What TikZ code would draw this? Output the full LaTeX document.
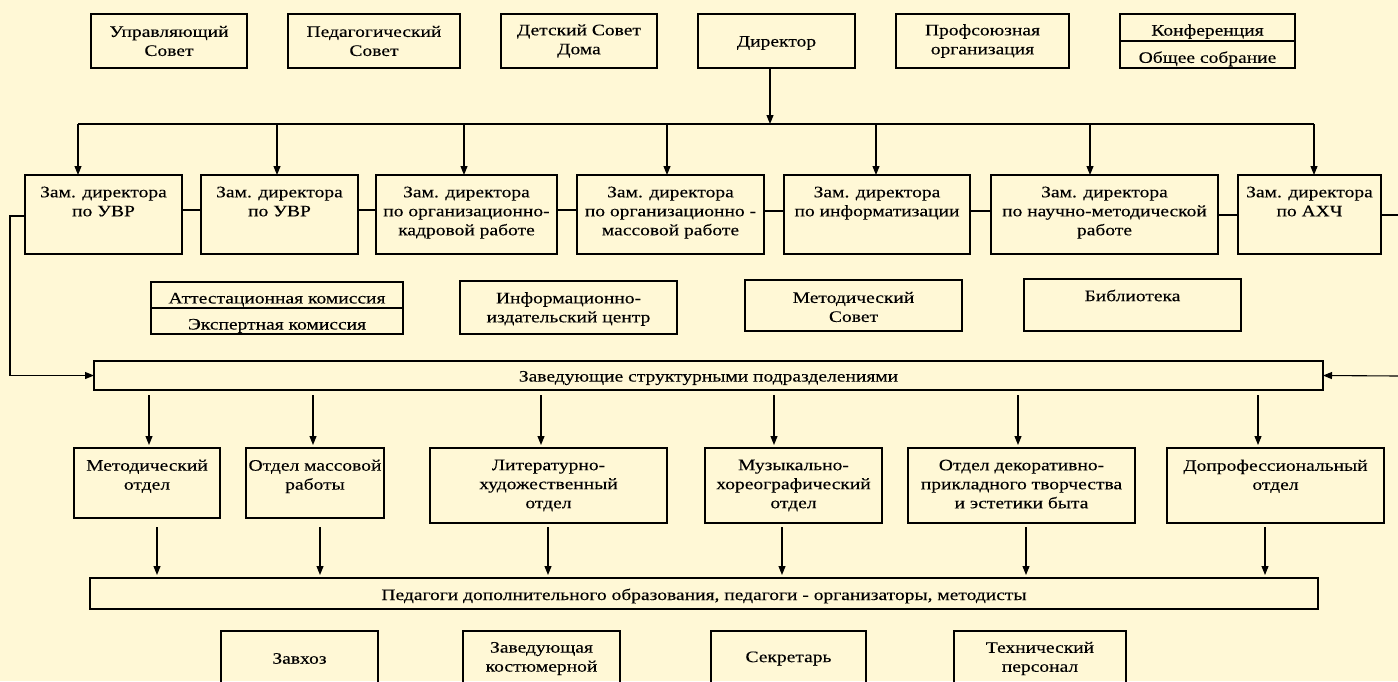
\documentclass[tikz,border=0pt]{standalone}
\usepackage{fontspec}
\setmainfont[FakeStretch=1.22,FakeBold=0.2]{Liberation Serif}
\usetikzlibrary{arrows.meta,calc}
\definecolor{bgc}{HTML}{FFF8D6}
\tikzset{
  box/.style={draw, line width=1.1pt, inner sep=0pt, outer sep=0pt},
  txt/.style={inner sep=0pt, align=center, font=\fontsize{16}{19}\selectfont},
  conn/.style={line width=1.1pt},
  arr/.style={line width=1.1pt, -{Triangle[length=9pt,width=7pt]}}
}
% centred text: optional vertical shift of the text
\newcommand\cbox[7][-2]{\node[box, minimum width={(#5-#3)*1pt}, minimum height={(#6-#4)*1pt},
  label={[txt,anchor=center,yshift=#1pt]center:{#7}}] (#2) at ({(#3+#5)/2},{(#4+#6)/2}) {};}
% top-aligned text: optional offset from the top edge
\newcommand\tbox[7][11.5]{\node[box, minimum width={(#5-#3)*1pt}, minimum height={(#6-#4)*1pt},
  label={[txt,anchor=north,yshift=-#1pt]north:{#7}}] (#2) at ({(#3+#5)/2},{(#4+#6)/2}) {};}
\begin{document}
\begin{tikzpicture}[x=1pt,y=-1pt]
\fill[bgc] (0,0) rectangle (1398,681);
\useasboundingbox (0,0) rectangle (1398,681);
% top row
\cbox[0]{us}{91}{14}{247}{68}{Управляющий\\Совет}
\cbox[0]{ps}{288}{14}{460}{68}{Педагогический\\Совет}
\cbox[0]{ds}{501}{14}{657}{68}{Детский Совет\\Дома}
\cbox{dir}{698}{14}{855}{68}{Директор}
\cbox[0]{prof}{896}{14}{1069}{68}{Профсоюзная\\организация}
\tbox[10.2]{conf}{1120}{14}{1295}{41}{Конференция}
\tbox[10.2]{obs}{1120}{41}{1295}{68}{Общее собрание}
% deputies
\tbox{z1}{25}{175}{182}{254}{Зам. директора\\по УВР}
\tbox{z2}{201}{175}{358}{254}{Зам. директора\\по УВР}
\tbox{z3}{376}{175}{557}{254}{Зам. директора\\по организационно-\\кадровой работе}
\tbox{z4}{577}{175}{764}{254}{Зам. директора\\по организационно -\\массовой работе}
\tbox{z5}{784}{175}{970}{254}{Зам. директора\\по информатизации}
\tbox{z6}{991}{175}{1218}{254}{Зам. директора\\по научно-методической\\работе}
\tbox{z7}{1238}{175}{1381}{254}{Зам. директора\\по АХЧ}
% middle
\tbox[10.7]{att}{151}{282}{403}{308}{Аттестационная комиссия}
\tbox[10.7]{exp}{151}{308}{403}{334}{Экспертная комиссия}
\cbox[-1.5]{iic}{460}{281}{677}{334}{Информационно-\\издательский центр}
\cbox[-1.5]{ms}{745}{280}{962}{331}{Методический\\Совет}
\tbox[10.5]{lib}{1024}{279}{1241}{331}{Библиотека}
\cbox[-2.5]{zav}{94}{361}{1323}{390}{Заведующие структурными подразделениями}
% departments
\tbox{d1}{74}{448}{220}{518}{Методический\\отдел}
\tbox{d2}{246}{448}{384}{518}{Отдел массовой\\работы}
\tbox{d3}{430}{448}{667}{523}{Литературно-\\художественный\\отдел}
\tbox{d4}{705}{448}{882}{523}{Музыкально-\\хореографический\\отдел}
\tbox{d5}{908}{448}{1135}{523}{Отдел декоративно-\\прикладного творчества\\и эстетики быта}
\tbox{d6}{1167}{448}{1384}{523}{Допрофессиональный\\отдел}
\cbox[-2.5]{ped}{90}{578}{1318}{609}{Педагоги дополнительного образования, педагоги - организаторы, методисты}
% bottom
\cbox[-1]{zh}{221}{631}{378}{684}{Завхоз}
\cbox[-1]{zk}{463}{631}{620}{684}{Заведующая\\костюмерной}
\cbox[-1]{sek}{711}{631}{866}{684}{Секретарь}
\cbox[-1]{tp}{954}{631}{1126}{684}{Технический\\персонал}
% director bus
\coordinate (bl) at (78,124);
\coordinate (br) at (1314,124);
\coordinate (bd) at (770,124);
\draw[conn] (bl) -- (br);
\draw[arr] (dir.south -| bd) -- (bd);
\foreach \i/\x/\n in {1/78/z1,2/277/z2,3/464/z3,4/667/z4,5/876/z5,6/1090/z6,7/1314/z7}{
  \coordinate (b\i) at (\x,124);
  \draw[arr] (b\i) -- (b\i |- \n.north);
}
% links between deputies
\draw[conn] ([yshift=-35pt]z1.north east) -- ([yshift=-35pt]z2.north west);
\draw[conn] ([yshift=-35pt]z2.north east) -- ([yshift=-35pt]z3.north west);
\draw[conn] ([yshift=-35pt]z3.north east) -- ([yshift=-35pt]z4.north west);
\draw[conn] ([yshift=-36pt]z4.north east) -- ([yshift=-36pt]z5.north west);
\draw[conn] ([yshift=-36pt]z5.north east) -- ([yshift=-36pt]z6.north west);
\draw[conn] ([yshift=-40pt]z6.north east) -- ([yshift=-40pt]z7.north west);
\coordinate (rc) at (1398,215);
\draw[conn] ([yshift=-40pt]z7.north east) -- (rc);
% side links to heads
\coordinate (lc) at (10,216);
\draw[arr] ([yshift=-41pt]z1.north west) -- (lc) |- (zav.west);
\coordinate (rc2) at (1398,376);
\draw[arr] (rc2) -- (zav.east);
% heads to departments
\foreach \i/\x/\n in {1/149/d1,2/313/d2,3/541/d3,4/774/d4,5/1018/d5,6/1258/d6}{
  \coordinate (za\i) at (\x,395);
  \draw[arr, shorten >=3pt] (za\i) -- (za\i |- \n.north);
}
% departments to teachers
\foreach \i/\x in {1/157,2/320,3/548,4/782,5/1026,6/1265}{
  \coordinate (pa\i) at (\x,527);
  \draw[arr, shorten >=3pt] (pa\i) -- (pa\i |- ped.north);
}
\end{tikzpicture}
\end{document}
